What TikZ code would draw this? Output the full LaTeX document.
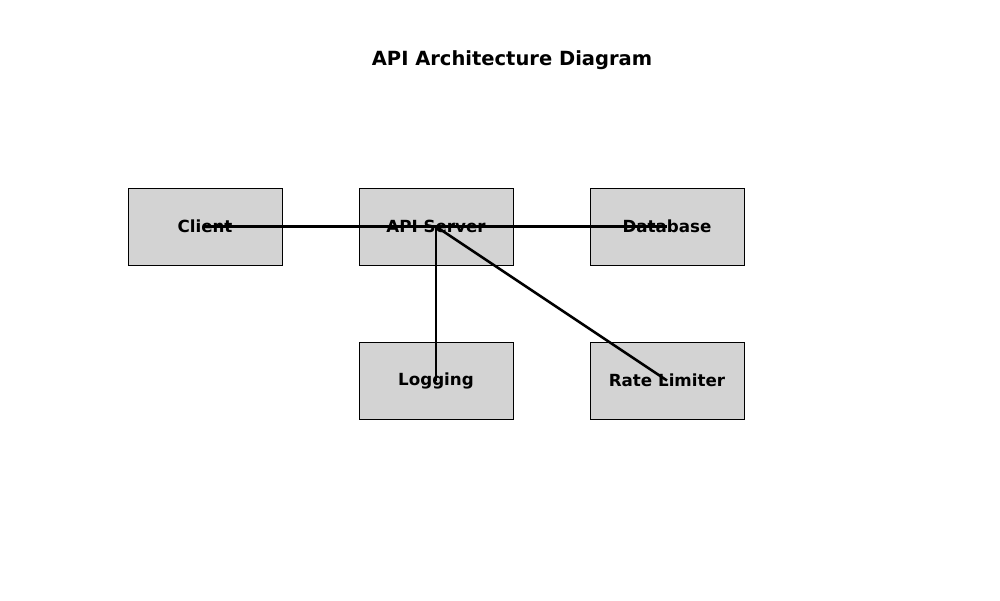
\documentclass[tikz,border=0pt]{standalone}
\usepackage{fontspec}
\setmainfont{DejaVu Sans}
\begin{document}
\begin{tikzpicture}[x=1pt,y=-1pt,
  box/.style={draw=black,line width=1pt,fill={rgb,255:red,211;green,211;blue,211},minimum width=154pt,minimum height=77pt,inner sep=0pt,font=\bfseries\fontsize{16.7}{20}\selectfont},
  link/.style={draw=black,line width=2.6pt}]
\useasboundingbox (0,0) rectangle (1000,600);
\node[font=\bfseries\fontsize{19.5}{23}\selectfont] (title) at (512,60) {API Architecture Diagram};
\node[box] (client) at (205,226.5) {Client};
\node[box] (api) at (436,226.5) {API Server};
\node[box] (db) at (667,226.5) {Database};
\node[box] (log) at (436,380.5) {Logging};
\node[box] (rate) at (667,380.5) {Rate Limiter};
\draw[link] (client.center) -- (api.center);
\draw[link] (api.center) -- (db.center);
\draw[link] (api.center) -- (log.center);
\draw[link] (api.center) -- (rate.center);
\end{tikzpicture}
\end{document}
